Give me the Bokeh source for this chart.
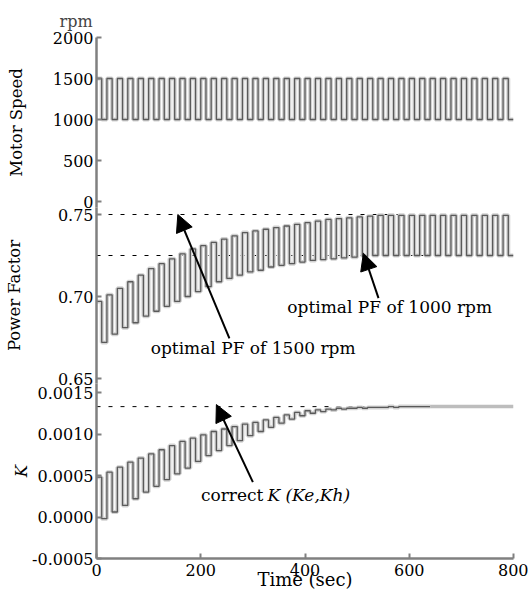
from bokeh.plotting import figure
from bokeh.layouts import column
from bokeh.models import Range1d, FixedTicker, PrintfTickFormatter, Label, Arrow, NormalHead
from bokeh.embed import file_html
from bokeh.resources import INLINE

# ---------------- data ----------------
step_sec = 10
time_end = 800
time_ticks = [0, 200, 400, 600, 800]

speed_rpm = [
    1500, 1000, 1500, 1000, 1500, 1000, 1500, 1000, 1500, 1000,
    1500, 1000, 1500, 1000, 1500, 1000, 1500, 1000, 1500, 1000,
    1500, 1000, 1500, 1000, 1500, 1000, 1500, 1000, 1500, 1000,
    1500, 1000, 1500, 1000, 1500, 1000, 1500, 1000, 1500, 1000,
    1500, 1000, 1500, 1000, 1500, 1000, 1500, 1000, 1500, 1000,
    1500, 1000, 1500, 1000, 1500, 1000, 1500, 1000, 1500, 1000,
    1500, 1000, 1500, 1000, 1500, 1000, 1500, 1000, 1500, 1000,
    1500, 1000, 1500, 1000, 1500, 1000, 1500, 1000, 1500, 1000,
]

pf_at_1500 = [
    0.697, 0.701, 0.705, 0.709, 0.713, 0.717, 0.720, 0.723, 0.726, 0.729,
    0.731, 0.733, 0.735, 0.737, 0.739, 0.740, 0.741, 0.742, 0.743, 0.744,
    0.745, 0.746, 0.747, 0.7475, 0.748, 0.7485, 0.749, 0.7495, 0.7495, 0.7495,
    0.7495, 0.7495, 0.7495, 0.7495, 0.7495, 0.7495, 0.7495, 0.7495, 0.7495, 0.7495,
]
pf_at_1000 = [
    0.672, 0.677, 0.681, 0.684, 0.688, 0.691, 0.694, 0.697, 0.700, 0.703,
    0.706, 0.709, 0.711, 0.713, 0.715, 0.716, 0.718, 0.719, 0.720, 0.721,
    0.722, 0.7225, 0.723, 0.7235, 0.724, 0.7245, 0.725, 0.725, 0.725, 0.725,
    0.725, 0.725, 0.725, 0.725, 0.725, 0.725, 0.725, 0.725, 0.725, 0.725,
]
k_at_1500 = [
    0.00048, 0.00054, 0.00060, 0.00066, 0.00071, 0.00076, 0.00081, 0.00086, 0.00091, 0.00095,
    0.00099, 0.00103, 0.00106, 0.00109, 0.00112, 0.00114, 0.00117, 0.00120, 0.00123, 0.00126,
    0.00128, 0.00129, 0.00130, 0.00131, 0.00131, 0.00132, 0.00132, 0.00132, 0.00133, 0.00133,
    0.00133, 0.00133, 0.00133, 0.00133, 0.00133, 0.00133, 0.00133, 0.00133, 0.00133, 0.00133,
]
k_at_1000 = [
    -0.00002, 0.00006, 0.00014, 0.00022, 0.00030, 0.00037, 0.00045, 0.00052, 0.00059, 0.00067,
    0.00074, 0.00080, 0.00086, 0.00092, 0.00098, 0.00103, 0.00108, 0.00113, 0.00118, 0.00122,
    0.00125, 0.00127, 0.00129, 0.00130, 0.00131, 0.00131, 0.00132, 0.00132, 0.00132, 0.00133,
    0.00133, 0.00133, 0.00133, 0.00133, 0.00133, 0.00133, 0.00133, 0.00133, 0.00133, 0.00133,
]

pf_opt_1500 = 0.75
pf_opt_1000 = 0.725
k_correct = 0.00133
k_settled_time = 640
ref_line_end = 641

speed_ticks = [0, 500, 1000, 1500, 2000]
pf_ticks = [0.65, 0.70, 0.75]
k_ticks = [-0.0005, 0.0, 0.0005, 0.0010, 0.0015]

# ---------------- step series ----------------
t_edges = [i * step_sec for i in range(len(speed_rpm))] + [time_end]
speed_y = speed_rpm + [speed_rpm[-1]]
pf_y = [v for pair in zip(pf_at_1500, pf_at_1000) for v in pair]
pf_y = pf_y + [pf_y[-1]]
k_y = [v for pair in zip(k_at_1500, k_at_1000) for v in pair]
k_y = k_y + [k_y[-1]]
k_split = k_settled_time // step_sec

# ---------------- styling ----------------
FONT = "DejaVu Serif"
AX = "#808080"
DARK = "#5a5a5a"
LIGHT = "#d2d2d2"
OVERLAP = 24  # panels share their label margins

xr = Range1d(0, time_end)


def make_fig(height, yr, top, bottom, show_x, title=None):
    kw = dict(width=528, height=height, x_range=xr, y_range=yr,
              output_backend="svg", toolbar_location=None, title=title,
              min_border_left=96, min_border_right=15,
              min_border_top=top, min_border_bottom=bottom)
    if not show_x:
        kw["x_axis_location"] = None
    p = figure(**kw)
    p.outline_line_color = None
    p.grid.visible = False
    p.background_fill_color = None
    p.border_fill_color = None
    axes = list(p.yaxis) + (list(p.xaxis) if show_x else [])
    for ax in axes:
        ax.axis_line_color = AX
        ax.axis_line_width = 2.5
        ax.major_tick_line_color = AX
        ax.major_tick_line_width = 2
        ax.major_tick_in = 5
        ax.major_tick_out = 0
        ax.minor_tick_line_color = None
        ax.major_label_text_font = FONT
        ax.major_label_text_font_size = "16px"
        ax.major_label_text_color = "black"
        ax.major_label_standoff = 3
        ax.axis_label_text_font = FONT
        ax.axis_label_text_font_size = "16.5px"
        ax.axis_label_text_font_style = "normal"
        ax.axis_label_text_color = "black"
    return p


def lbl(p, x, y, text, align="left", style="normal", x_offset=0):
    p.add_layout(Label(x=x, y=y, text=text, text_align=align, text_baseline="middle",
                       text_font=FONT, text_font_size="17px",
                       text_font_style=style, text_color="black", x_offset=x_offset))


def arrow(p, xs, ys, xe, ye, size=17):
    p.add_layout(Arrow(end=NormalHead(size=size, fill_color="black", line_color="black"),
                       x_start=xs, y_start=ys, x_end=xe, y_end=ye,
                       line_color="black", line_width=2))


# ---- panel 1: motor speed ----
p1 = make_fig(219, Range1d(-6 * 2000 / 164, 2000), 37, 12, False, title="rpm")
p1.title.text_font = FONT
p1.title.text_font_size = "16px"
p1.title.text_font_style = "normal"
p1.title.align = "left"
p1.title.offset = -37
p1.title.standoff = 13
p1.yaxis.ticker = FixedTicker(ticks=speed_ticks)
p1.yaxis.formatter = PrintfTickFormatter(format="%d")
p1.yaxis.axis_label = "Motor Speed"
p1.yaxis.axis_label_standoff = 24
p1.step(t_edges, speed_y, mode="after", line_color=LIGHT, line_width=4)
p1.step(t_edges, speed_y, mode="after", line_color=DARK, line_width=1.3)

# ---- panel 2: power factor ----
p2 = make_fig(200, Range1d(0.65 - 5 / 1640, 0.75 + 7 / 1640), 12, 12, False)
p2.styles = {"margin-top": f"-{OVERLAP}px"}
p2.yaxis.ticker = FixedTicker(ticks=pf_ticks)
p2.yaxis.formatter = PrintfTickFormatter(format="%.2f")
p2.yaxis.axis_label = "Power Factor"
p2.yaxis.axis_label_standoff = 31
p2.line([0, ref_line_end], [pf_opt_1500, pf_opt_1500], line_color="black",
        line_width=1, line_dash="4 8")
p2.line([0, ref_line_end], [pf_opt_1000, pf_opt_1000], line_color="black",
        line_width=1, line_dash="4 8")
p2.step(t_edges, pf_y, mode="after", line_color=LIGHT, line_width=4)
p2.step(t_edges, pf_y, mode="after", line_color=DARK, line_width=1.3)
arrow(p2, 255, 0.6744, 156, pf_opt_1500)
lbl(p2, 104, 0.6689, "optimal PF of 1500 rpm")
arrow(p2, 541, 0.6990, 512, 0.7264)
lbl(p2, 366, 0.6933, "optimal PF of 1000 rpm")

# ---- panel 3: K ----
p3 = make_fig(222, Range1d(-0.0005, 0.0015 + 9 / 83000), 12, 35, True)
p3.styles = {"margin-top": f"-{OVERLAP}px"}
p3.yaxis.ticker = FixedTicker(ticks=k_ticks)
p3.yaxis.formatter = PrintfTickFormatter(format="%.4f")
p3.yaxis.axis_label = "K"
p3.yaxis.axis_label_text_font_style = "italic"
p3.yaxis.axis_label_standoff = -2
p3.xaxis.ticker = FixedTicker(ticks=time_ticks)
p3.xaxis.major_label_standoff = 5
p3.xaxis.axis_label = "Time (sec)"
p3.xaxis.axis_label_text_font_size = "18px"
p3.xaxis.axis_label_standoff = -10
p3.line([0, ref_line_end], [k_correct, k_correct], line_color="black",
        line_width=1, line_dash="4 8")
p3.step(t_edges[:k_split + 1], k_y[:k_split + 1], mode="after", line_color=LIGHT, line_width=4)
p3.step(t_edges[:k_split + 1], k_y[:k_split + 1], mode="after", line_color=DARK, line_width=1.3)
p3.step(t_edges[k_split:], k_y[k_split:], mode="after", line_color="#bdbdbd", line_width=3.5)
arrow(p3, 300, 0.00042, 230, 0.001355)
lbl(p3, 324, 0.000271, "correct", align="right", x_offset=-2)
lbl(p3, 324, 0.000271, "K (Ke,Kh)", align="left", style="italic", x_offset=2)

layout = column(p1, p2, p3)
open("out.html", "w").write(file_html(layout, INLINE))
